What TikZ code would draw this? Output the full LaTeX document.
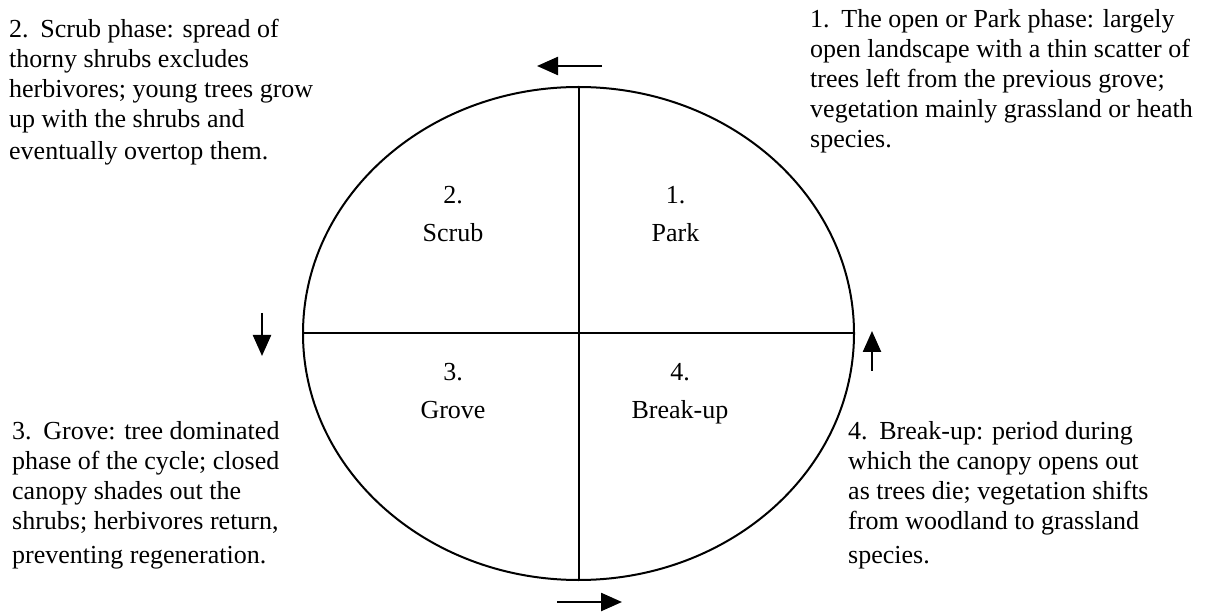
\documentclass[tikz,border=0pt]{standalone}
\usepackage{fontspec}
\setmainfont{Liberation Serif}
\usetikzlibrary{arrows.meta,shapes.geometric}
\begin{document}
\begin{tikzpicture}[x=1pt,y=-1pt,
  txt/.style={inner sep=0pt, anchor=base west, align=left, font=\fontsize{26pt}{30pt}\selectfont},
  lbl/.style={inner sep=0pt, anchor=base, align=center, font=\fontsize{26pt}{38pt}\selectfont},
  dir/.style={line width=2.4pt, -{Triangle[length=21pt,width=18pt]}},
  divider/.style={line width=2pt}]
\useasboundingbox (0,0) rectangle (1208,612);
\node[draw, ellipse, line width=2pt, inner sep=0pt, minimum width=551pt, minimum height=493pt] (cyc) at (578.5,333.5) {};
\draw[divider] (cyc.north) -- (cyc.south);
\draw[divider] (cyc.west) -- (cyc.east);
% arrows
\coordinate (topT) at (602,66);  \coordinate (topH) at (537,66);
\coordinate (botT) at (557,602); \coordinate (botH) at (622,602);
\coordinate (lefT) at (262,313); \coordinate (lefH) at (262,356);
\coordinate (rigT) at (872,371); \coordinate (rigH) at (872,331);
\draw[dir] (topT) -- (topH);
\draw[dir] (botT) -- (botH);
\draw[dir] (lefT) -- (lefH);
\draw[dir] (rigT) -- (rigH);
% inner labels (base = last line)
\node[lbl] (l2) at (453,242) {2.\\Scrub};
\node[lbl] (l1) at (675.5,242) {1.\\Park};
\node[lbl] (l3) at (453,418) {3.\\Grove};
\node[lbl] (l4) at (680,418) {4.\\Break-up};
% descriptions (base = last line)
\node[txt] (d2) at (9,160) {2.\hspace{0.45em}Scrub phase: spread of\\thorny shrubs excludes\\herbivores; young trees grow\\up with the shrubs and\\[2pt]eventually overtop them.};
\node[txt] (d1) at (810,148) {1.\hspace{0.45em}The open or Park phase: largely\\open landscape with a thin scatter of\\trees left from the previous grove;\\vegetation mainly grassland or heath\\species.};
\node[txt] (d3) at (12,563) {3.\hspace{0.45em}Grove: tree dominated\\phase of the cycle; closed\\canopy shades out the\\shrubs; herbivores return,\\[4pt]preventing regeneration.};
\node[txt] (d4) at (848,563) {4.\hspace{0.45em}Break-up: period during\\which the canopy opens out\\as trees die; vegetation shifts\\from woodland to grassland\\[4pt]species.};
\end{tikzpicture}
\end{document}
